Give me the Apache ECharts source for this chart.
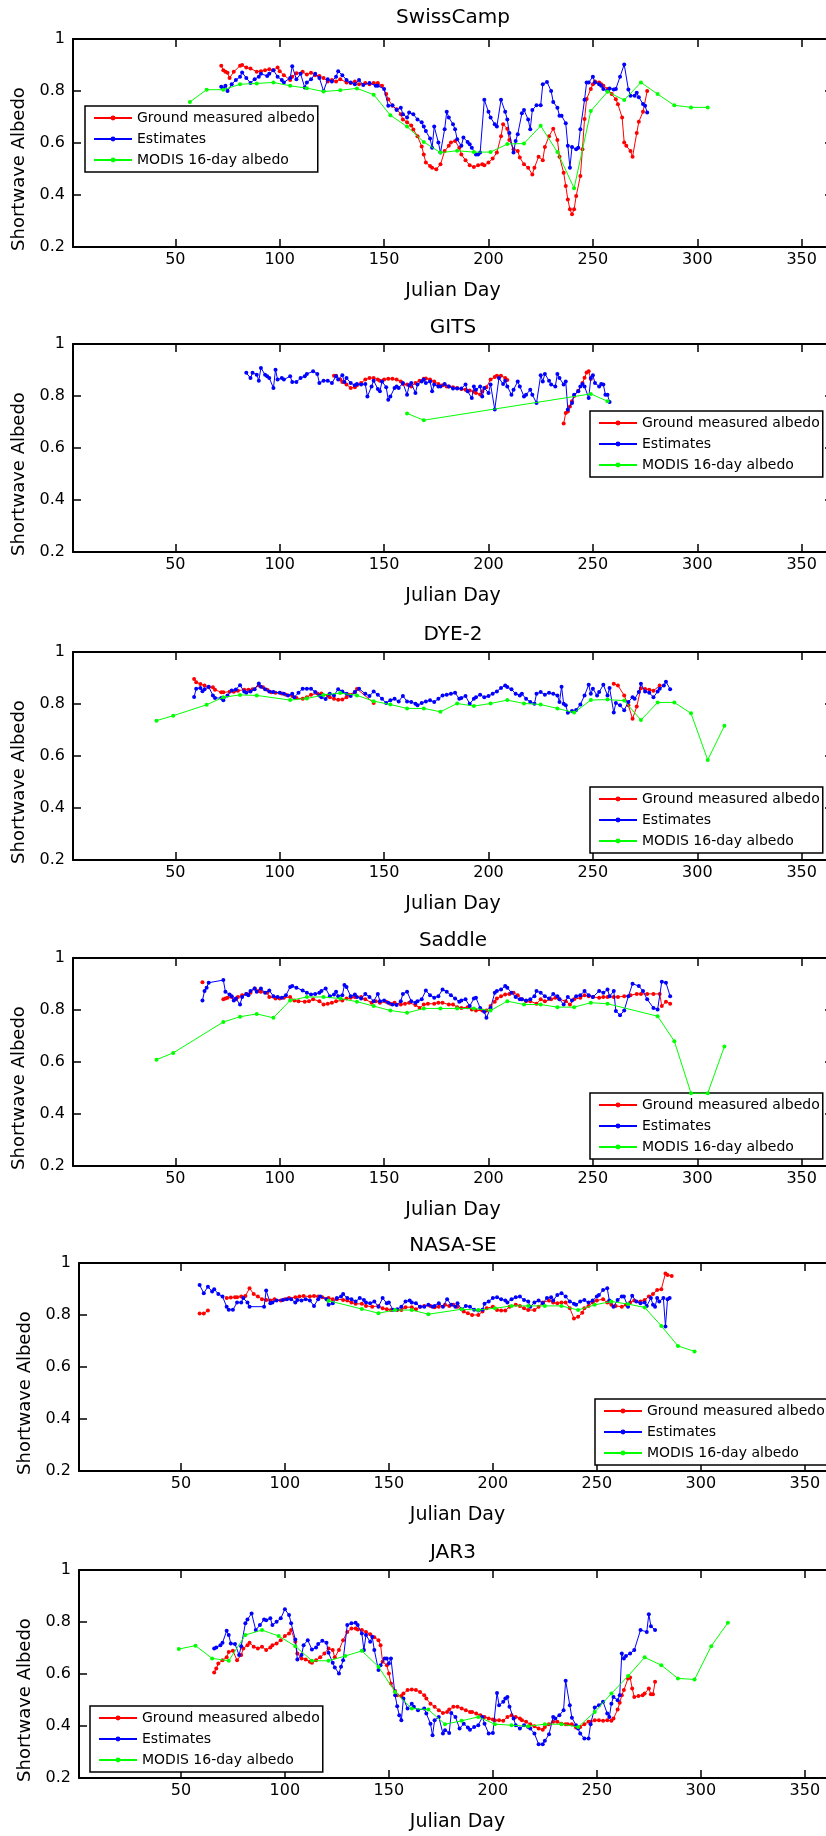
<!DOCTYPE html>
<html>
<head>
<meta charset="utf-8">
<script src="https://cdn.jsdelivr.net/npm/echarts@6/dist/echarts.min.js"></script>
<style>
html, body { margin: 0; padding: 0; background: #fff; }
#main { width: 826px; height: 1836px; }
</style>
</head>
<body>
<div id="main"></div>
<script>
// 站点名称 / 图例 / 刻度
var stations = ['SwissCamp', 'GITS', 'DYE-2', 'Saddle', 'NASA-SE', 'JAR3'];
var seriesNames = ['Ground measured albedo', 'Estimates', 'MODIS 16-day albedo'];
var xTickValues = [50, 100, 150, 200, 250, 300, 350];
var yTickValues = [0.2, 0.4, 0.6, 0.8, 1];

// SwissCamp
var swissGround = [[72,0.897],[73,0.88],[74,0.874],[75,0.87],[76,0.85],[78,0.874],[81,0.897],[82,0.9],[84,0.89],[86,0.887],[89,0.874],[91,0.876],[93,0.88],[95,0.884],[97,0.88],[99,0.89],[100,0.876],[102,0.861],[105,0.842],[106,0.855],[108,0.868],[111,0.874],[113,0.863],[115,0.87],[117,0.861],[119,0.858],[121,0.85],[123,0.837],[125,0.842],[127,0.837],[129,0.845],[132,0.833],[134,0.831],[136,0.837],[138,0.826],[141,0.831],[143,0.826],[145,0.831],[147,0.831],[149,0.82],[151,0.788],[152,0.768],[154,0.743],[156,0.73],[158,0.711],[159,0.69],[161,0.68],[163,0.667],[164,0.652],[166,0.626],[168,0.587],[169,0.556],[170,0.525],[172,0.512],[173,0.505],[175,0.499],[177,0.518],[179,0.569],[181,0.589],[182,0.602],[184,0.608],[186,0.582],[187,0.556],[189,0.534],[191,0.514],[193,0.508],[195,0.514],[197,0.518],[198,0.514],[200,0.525],[202,0.54],[204,0.563],[206,0.626],[207,0.672],[209,0.655],[210,0.612],[212,0.576],[214,0.569],[215,0.544],[217,0.518],[219,0.505],[221,0.479],[222,0.505],[224,0.547],[226,0.534],[227,0.585],[229,0.626],[231,0.655],[233,0.612],[234,0.547],[236,0.486],[237,0.435],[238,0.383],[239,0.345],[240,0.326],[241,0.345],[242,0.396],[244,0.473],[245,0.576],[246,0.692],[247,0.769],[249,0.808],[250,0.826],[251,0.837],[253,0.833],[254,0.826],[255,0.82],[257,0.808],[259,0.788],[261,0.768],[262,0.749],[264,0.698],[265,0.602],[266,0.589],[268,0.569],[269,0.547],[271,0.638],[272,0.682],[274,0.72],[276,0.8]];
var swissEst = [[72,0.816],[73,0.81],[74,0.82],[75,0.8],[77,0.826],[79,0.842],[81,0.855],[82,0.871],[84,0.85],[86,0.831],[88,0.845],[90,0.855],[91,0.866],[94,0.858],[95,0.866],[97,0.88],[99,0.855],[101,0.842],[102,0.833],[105,0.85],[106,0.895],[108,0.845],[110,0.866],[112,0.813],[113,0.833],[115,0.845],[117,0.866],[119,0.85],[121,0.8],[123,0.845],[125,0.837],[127,0.855],[128,0.876],[130,0.861],[132,0.842],[134,0.833],[136,0.826],[138,0.842],[140,0.823],[143,0.831],[146,0.82],[147,0.82],[150,0.808],[152,0.743],[154,0.745],[156,0.727],[158,0.736],[159,0.711],[161,0.698],[162,0.717],[164,0.711],[166,0.69],[168,0.68],[169,0.663],[170,0.646],[172,0.617],[173,0.582],[174,0.663],[176,0.602],[177,0.563],[179,0.653],[180,0.72],[181,0.698],[183,0.672],[184,0.653],[185,0.614],[187,0.589],[188,0.621],[190,0.604],[191,0.595],[192,0.582],[194,0.556],[195,0.556],[196,0.563],[198,0.766],[200,0.72],[201,0.698],[203,0.672],[204,0.663],[206,0.766],[208,0.72],[209,0.69],[210,0.638],[212,0.563],[213,0.608],[214,0.634],[216,0.714],[217,0.727],[219,0.69],[220,0.653],[221,0.727],[223,0.745],[225,0.745],[226,0.826],[228,0.835],[230,0.8],[231,0.758],[233,0.736],[234,0.705],[235,0.705],[237,0.676],[238,0.589],[239,0.505],[240,0.585],[242,0.576],[243,0.582],[244,0.653],[246,0.766],[247,0.833],[248,0.833],[250,0.855],[251,0.833],[253,0.826],[254,0.82],[255,0.808],[257,0.8],[258,0.81],[260,0.806],[261,0.808],[263,0.855],[265,0.902],[267,0.806],[268,0.782],[270,0.782],[271,0.793],[272,0.776],[274,0.75],[275,0.743],[276,0.717]];
var swissModis = [[57,0.758],[65,0.805],[73,0.805],[81,0.826],[89,0.829],[97,0.833],[105,0.82],[113,0.811],[121,0.798],[129,0.803],[137,0.81],[145,0.786],[153,0.707],[161,0.663],[169,0.604],[177,0.563],[185,0.57],[193,0.565],[201,0.565],[209,0.596],[217,0.598],[225,0.666],[233,0.565],[241,0.426],[249,0.723],[257,0.797],[265,0.765],[273,0.833],[281,0.788],[289,0.745],[297,0.737],[305,0.737]];

// GITS
var gitsGround = [[126,0.878],[127,0.878],[129,0.863],[130,0.854],[132,0.844],[134,0.831],[136,0.834],[137,0.841],[139,0.85],[141,0.863],[143,0.869],[145,0.869],[147,0.863],[148,0.859],[150,0.863],[152,0.866],[154,0.866],[156,0.863],[158,0.856],[159,0.846],[161,0.844],[163,0.837],[165,0.85],[167,0.859],[169,0.866],[170,0.867],[172,0.863],[174,0.856],[176,0.846],[178,0.841],[180,0.837],[181,0.837],[183,0.834],[185,0.831],[187,0.827],[189,0.824],[191,0.821],[193,0.816],[194,0.812],[196,0.806],[197,0.818],[199,0.834],[201,0.863],[203,0.873],[204,0.878],[206,0.878],[208,0.869],[209,0.862],[222,null],[236,0.694],[237,0.735],[238,0.74],[239,0.76],[240,0.78],[241,0.8],[243,0.82],[245,0.85],[246,0.87],[247,0.89],[248,0.895],[249,0.865]];
var gitsEst = [[84,0.889],[86,0.869],[87,0.889],[89,0.882],[90,0.859],[91,0.908],[93,0.882],[94,0.876],[95,0.869],[97,0.831],[98,0.901],[99,0.863],[101,0.869],[102,0.863],[105,0.876],[106,0.854],[108,0.854],[110,0.869],[112,0.876],[113,0.885],[116,0.895],[118,0.885],[119,0.85],[121,0.859],[123,0.859],[125,0.85],[127,0.876],[128,0.863],[130,0.88],[131,0.854],[132,0.869],[134,0.85],[136,0.841],[137,0.846],[139,0.844],[141,0.846],[142,0.798],[144,0.837],[145,0.859],[147,0.827],[148,0.818],[149,0.856],[151,0.834],[152,0.786],[153,0.798],[155,0.831],[156,0.837],[157,0.831],[159,0.85],[161,0.805],[162,0.841],[163,0.85],[165,0.812],[166,0.844],[168,0.856],[169,0.863],[170,0.85],[172,0.856],[173,0.818],[174,0.844],[176,0.837],[177,0.837],[179,0.846],[181,0.837],[183,0.829],[185,0.829],[187,0.829],[189,0.844],[190,0.818],[192,0.792],[193,0.837],[194,0.824],[196,0.837],[197,0.798],[198,0.831],[200,0.812],[201,0.844],[203,0.748],[205,0.869],[207,0.846],[208,0.859],[209,0.837],[211,0.805],[212,0.824],[214,0.856],[215,0.837],[217,0.798],[218,0.805],[220,0.824],[221,0.805],[223,0.773],[225,0.88],[226,0.856],[227,0.885],[229,0.859],[230,0.844],[232,0.837],[233,0.885],[234,0.869],[236,0.844],[237,0.856],[238,0.748],[240,0.773],[241,0.805],[243,0.818],[244,0.837],[245,0.846],[246,0.837],[248,0.792],[249,0.869],[250,0.88],[251,0.85],[253,0.837],[254,0.846],[255,0.844],[256,0.805],[257,0.805],[258,0.777]];
var gitsModis = [[161,0.733],[169,0.707],[249,0.808],[257,0.78]];

// DYE-2
var dyeGround = [[59,0.896],[60,0.884],[62,0.877],[64,0.871],[66,0.864],[68,0.864],[69,0.855],[72,0.845],[73,0.845],[76,0.847],[78,0.847],[80,0.851],[83,0.855],[85,0.855],[87,0.857],[90,0.871],[92,0.864],[94,0.855],[96,0.845],[98,0.843],[101,0.84],[103,0.836],[106,0.831],[108,0.823],[111,0.82],[113,0.826],[115,0.836],[118,0.84],[120,0.84],[123,0.833],[124,0.826],[126,0.82],[128,0.816],[130,0.817],[132,0.826],[133,0.836],[136,0.845],[137,0.858],[145,0.804],[200,null],[260,0.878],[262,0.871],[265,0.833],[267,0.795],[269,0.743],[271,0.79],[273,0.861],[275,0.858],[277,0.855],[279,0.851],[282,0.871]];
var dyeEst = [[59,0.827],[60,0.859],[62,0.862],[63,0.849],[64,0.857],[66,0.866],[68,0.833],[69,0.823],[72,0.823],[73,0.814],[75,0.833],[77,0.852],[79,0.856],[81,0.872],[83,0.848],[84,0.843],[86,0.848],[88,0.857],[90,0.879],[91,0.866],[93,0.857],[95,0.848],[97,0.846],[100,0.843],[102,0.839],[104,0.833],[106,0.839],[107,0.826],[109,0.843],[111,0.859],[113,0.859],[115,0.859],[117,0.846],[119,0.833],[120,0.826],[122,0.819],[124,0.839],[126,0.833],[128,0.857],[130,0.848],[132,0.839],[134,0.831],[136,0.846],[138,0.859],[141,0.839],[143,0.831],[145,0.848],[147,0.836],[149,0.82],[151,0.804],[153,0.814],[155,0.82],[157,0.81],[159,0.831],[161,0.81],[163,0.808],[165,0.801],[166,0.795],[168,0.804],[170,0.81],[172,0.814],[174,0.808],[176,0.82],[178,0.833],[180,0.836],[182,0.839],[184,0.843],[186,0.82],[187,0.823],[189,0.831],[191,0.801],[193,0.82],[194,0.826],[196,0.836],[198,0.826],[200,0.831],[202,0.839],[204,0.848],[206,0.862],[208,0.871],[209,0.865],[211,0.857],[213,0.839],[215,0.833],[216,0.839],[218,0.82],[220,0.808],[222,0.801],[223,0.839],[225,0.846],[227,0.836],[229,0.843],[231,0.839],[233,0.833],[234,0.808],[235,0.866],[236,0.801],[237,0.795],[238,0.766],[240,0.773],[242,0.777],[244,0.798],[246,0.833],[248,0.874],[249,0.839],[250,0.859],[252,0.833],[253,0.846],[255,0.874],[257,0.833],[258,0.862],[260,0.767],[261,0.804],[263,0.795],[265,0.776],[267,0.808],[269,0.826],[270,0.82],[272,0.846],[273,0.878],[275,0.848],[277,0.843],[279,0.826],[281,0.848],[282,0.859],[284,0.871],[285,0.886],[287,0.857]];
var dyeModis = [[41,0.736],[49,0.755],[65,0.797],[73,0.826],[81,0.835],[89,0.833],[105,0.815],[113,0.821],[121,0.835],[129,0.842],[137,0.833],[145,0.811],[153,0.798],[161,0.783],[169,0.783],[177,0.77],[185,0.802],[193,0.792],[201,0.802],[209,0.815],[217,0.802],[225,0.798],[233,0.783],[241,0.767],[249,0.815],[257,0.817],[265,0.813],[273,0.738],[281,0.806],[289,0.806],[297,0.764],[305,0.585],[313,0.716]];

// Saddle
var saddleGround = [[63,0.907],[68,null],[73,0.841],[74,0.844],[75,0.847],[77,0.85],[79,0.841],[80,0.85],[82,0.857],[84,0.862],[86,0.866],[88,0.883],[90,0.873],[91,0.87],[94,0.866],[95,0.85],[98,0.844],[100,0.844],[102,0.847],[105,0.85],[107,0.837],[109,0.834],[112,0.832],[114,0.834],[116,0.841],[119,0.834],[121,0.821],[123,0.824],[125,0.828],[127,0.834],[130,0.837],[132,0.844],[134,0.847],[136,0.85],[139,0.85],[141,0.841],[144,0.828],[146,0.834],[148,0.828],[151,0.832],[153,0.824],[155,0.828],[158,0.821],[160,0.824],[162,0.828],[165,0.819],[167,0.808],[169,0.821],[171,0.824],[174,0.824],[176,0.828],[178,0.828],[181,0.821],[183,0.821],[185,0.811],[187,0.808],[190,0.811],[192,0.802],[194,0.798],[197,0.798],[199,0.798],[201,0.815],[203,0.832],[204,0.844],[206,0.853],[208,0.86],[210,0.862],[212,0.866],[214,0.857],[216,0.841],[218,0.834],[220,0.834],[223,0.824],[225,0.841],[227,0.834],[230,0.841],[232,0.847],[234,0.841],[237,0.834],[239,0.821],[241,0.841],[244,0.847],[246,0.857],[248,0.853],[250,0.85],[253,0.847],[255,0.85],[257,0.85],[260,0.85],[262,0.85],[265,0.853],[268,0.857],[271,0.862],[273,0.862],[276,0.862],[279,0.862],[282,0.862],[283,0.815],[285,0.832],[287,0.824]];
var saddleEst = [[63,0.837],[64,0.873],[65,0.886],[66,0.905],[73,0.915],[74,0.87],[76,0.86],[77,0.853],[78,0.837],[79,0.844],[81,0.821],[82,0.85],[84,0.862],[85,0.857],[86,0.873],[88,0.883],[89,0.87],[91,0.883],[93,0.866],[95,0.875],[97,0.853],[99,0.85],[101,0.847],[103,0.857],[105,0.888],[106,0.892],[108,0.886],[111,0.875],[113,0.866],[115,0.86],[117,0.862],[119,0.866],[120,0.873],[122,0.883],[124,0.853],[126,0.86],[127,0.87],[128,0.853],[130,0.857],[131,0.896],[132,0.888],[134,0.853],[136,0.86],[137,0.85],[139,0.844],[141,0.862],[143,0.85],[145,0.834],[147,0.862],[148,0.834],[150,0.837],[152,0.828],[154,0.821],[156,0.819],[158,0.834],[159,0.862],[161,0.87],[163,0.834],[165,0.828],[166,0.834],[168,0.841],[170,0.875],[172,0.857],[174,0.847],[176,0.853],[178,0.879],[180,0.87],[182,0.857],[184,0.844],[186,0.832],[187,0.837],[189,0.841],[191,0.815],[193,0.844],[194,0.847],[196,0.808],[198,0.793],[199,0.77],[201,0.808],[203,0.866],[204,0.873],[206,0.879],[208,0.892],[209,0.886],[211,0.866],[213,0.85],[215,0.841],[216,0.841],[218,0.837],[220,0.841],[222,0.853],[223,0.873],[225,0.866],[227,0.853],[229,0.844],[231,0.862],[233,0.853],[234,0.841],[236,0.821],[238,0.85],[240,0.837],[242,0.853],[244,0.857],[246,0.873],[248,0.857],[250,0.85],[253,0.873],[255,0.866],[257,0.879],[258,0.853],[260,0.873],[261,0.796],[263,0.78],[265,0.798],[267,0.853],[269,0.901],[272,0.892],[274,0.873],[276,0.841],[279,0.808],[281,0.802],[283,0.909],[285,0.905],[287,0.853]];
var saddleModis = [[41,0.609],[49,0.635],[73,0.754],[81,0.774],[89,0.785],[97,0.77],[105,0.837],[113,0.85],[121,0.85],[129,0.844],[137,0.832],[145,0.815],[153,0.798],[161,0.789],[169,0.806],[177,0.806],[185,0.806],[193,0.806],[201,0.798],[209,0.834],[217,0.821],[225,0.821],[233,0.811],[241,0.811],[249,0.828],[257,0.824],[281,0.776],[289,0.68],[297,0.48],[305,0.48],[313,0.66]];

// NASA-SE
var nasaGround = [[59,0.806],[61,0.806],[63,0.817],[67,null],[72,0.865],[74,0.867],[76,0.868],[77,0.868],[79,0.871],[81,0.873],[83,0.903],[85,0.881],[87,0.871],[89,0.861],[91,0.858],[93,0.856],[95,0.861],[98,0.856],[100,0.861],[102,0.865],[105,0.868],[107,0.871],[109,0.873],[112,0.871],[114,0.873],[116,0.871],[118,0.868],[121,0.865],[123,0.861],[125,0.861],[128,0.858],[130,0.856],[132,0.848],[134,0.843],[137,0.843],[139,0.835],[142,0.832],[145,0.835],[147,0.826],[149,0.822],[151,0.819],[154,0.819],[156,0.819],[158,0.83],[161,0.83],[163,0.822],[165,0.832],[167,0.835],[170,0.835],[172,0.83],[174,0.832],[177,0.839],[179,0.835],[181,0.839],[183,0.832],[186,0.813],[188,0.807],[190,0.8],[193,0.8],[195,0.813],[197,0.826],[200,0.832],[202,0.819],[204,0.817],[206,0.817],[208,0.832],[211,0.839],[213,0.835],[215,0.826],[217,0.819],[220,0.819],[222,0.832],[224,0.848],[227,0.856],[229,0.848],[231,0.845],[233,0.848],[235,0.848],[237,0.826],[239,0.787],[241,0.793],[243,0.809],[244,0.826],[246,0.835],[248,0.848],[250,0.856],[253,0.861],[255,0.848],[257,0.839],[259,0.835],[262,0.832],[264,0.839],[266,0.848],[268,0.856],[271,0.852],[273,0.858],[275,0.871],[277,0.881],[279,0.896],[281,0.899],[283,0.96],[284,0.954],[286,0.95]];
var nasaEst = [[59,0.915],[61,0.884],[63,0.909],[65,0.89],[66,0.899],[68,0.881],[70,0.871],[72,0.832],[73,0.82],[75,0.82],[77,0.848],[79,0.848],[80,0.865],[82,0.848],[83,0.832],[90,0.832],[91,0.894],[93,0.845],[94,0.848],[96,0.856],[99,0.858],[101,0.861],[103,0.861],[105,0.848],[106,0.858],[108,0.856],[110,0.861],[112,0.856],[114,0.835],[116,0.861],[117,0.871],[120,0.861],[121,0.839],[123,0.845],[125,0.865],[127,0.871],[128,0.881],[130,0.865],[132,0.861],[134,0.852],[136,0.865],[138,0.858],[139,0.848],[141,0.845],[143,0.852],[145,0.832],[147,0.865],[149,0.845],[150,0.848],[152,0.82],[154,0.822],[156,0.832],[158,0.852],[160,0.856],[161,0.848],[163,0.845],[165,0.832],[167,0.832],[169,0.839],[171,0.832],[172,0.835],[174,0.845],[176,0.832],[178,0.861],[180,0.839],[182,0.832],[183,0.845],[185,0.822],[187,0.835],[189,0.832],[191,0.82],[193,0.817],[195,0.82],[196,0.843],[198,0.852],[200,0.865],[202,0.868],[204,0.861],[206,0.856],[207,0.848],[209,0.861],[211,0.868],[213,0.871],[215,0.858],[217,0.852],[218,0.832],[220,0.848],[222,0.856],[224,0.845],[226,0.865],[228,0.868],[229,0.856],[231,0.877],[233,0.884],[235,0.871],[237,0.852],[239,0.843],[240,0.839],[242,0.852],[244,0.858],[246,0.848],[248,0.856],[250,0.871],[251,0.877],[253,0.896],[255,0.903],[256,0.856],[258,0.832],[260,0.858],[262,0.871],[263,0.871],[265,0.832],[267,0.874],[269,0.852],[271,0.845],[273,0.848],[274,0.835],[276,0.865],[277,0.839],[278,0.832],[279,0.865],[280,0.852],[282,0.865],[283,0.756],[284,0.861],[285,0.865]];
var nasaModis = [[121,0.855],[137,0.823],[145,0.807],[153,0.819],[161,0.819],[169,0.803],[185,0.822],[193,0.819],[201,0.826],[209,0.835],[217,0.835],[225,0.835],[233,0.835],[241,0.819],[249,0.839],[257,0.852],[265,0.842],[273,0.829],[281,0.758],[289,0.681],[297,0.66]];

// JAR3
var jarGround = [[66,0.606],[67,0.621],[68,0.64],[70,0.653],[72,0.664],[73,0.685],[75,0.689],[77,0.653],[79,0.673],[80,0.698],[82,0.711],[83,0.72],[85,0.705],[87,0.698],[89,0.705],[91,0.692],[93,0.702],[94,0.711],[96,0.717],[98,0.73],[100,0.746],[102,0.756],[103,0.769],[105,0.724],[106,0.679],[108,0.66],[110,0.656],[112,0.647],[113,0.643],[115,0.653],[117,0.664],[119,0.679],[121,0.698],[123,0.692],[124,0.664],[126,0.692],[128,0.73],[130,0.762],[132,0.775],[134,0.775],[135,0.771],[137,0.769],[139,0.762],[141,0.753],[143,0.741],[145,0.73],[146,0.711],[147,0.647],[149,0.634],[150,0.602],[151,0.563],[153,0.535],[154,0.518],[156,0.515],[157,0.525],[159,0.538],[161,0.54],[163,0.538],[165,0.531],[167,0.518],[168,0.506],[170,0.486],[172,0.474],[174,0.461],[176,0.45],[178,0.454],[179,0.463],[181,0.474],[183,0.474],[185,0.467],[187,0.461],[189,0.454],[190,0.454],[192,0.448],[194,0.441],[196,0.435],[198,0.429],[200,0.425],[201,0.422],[203,0.422],[205,0.42],[207,0.435],[209,0.441],[211,0.435],[213,0.429],[214,0.422],[216,0.416],[218,0.407],[220,0.399],[222,0.39],[224,0.386],[225,0.396],[227,0.407],[229,0.416],[231,0.416],[233,0.409],[235,0.407],[236,0.407],[238,0.407],[240,0.394],[242,0.396],[244,0.407],[246,0.416],[247,0.416],[249,0.422],[251,0.422],[253,0.42],[255,0.422],[257,0.42],[258,0.429],[260,0.463],[261,0.489],[262,0.518],[263,0.538],[265,0.583],[266,0.587],[267,0.544],[268,0.512],[270,0.515],[272,0.518],[273,0.525],[275,0.544],[276,0.522],[277,0.522],[278,0.57]];
var jarEst = [[66,0.698],[67,0.702],[69,0.711],[70,0.72],[72,0.766],[73,0.75],[74,0.717],[76,0.715],[78,0.673],[79,0.707],[81,0.795],[82,0.81],[84,0.833],[86,0.769],[88,0.788],[90,0.81],[91,0.807],[93,0.814],[94,0.788],[96,0.801],[98,0.814],[100,0.849],[102,0.827],[103,0.795],[105,0.733],[106,0.656],[108,0.673],[109,0.711],[111,0.73],[113,0.694],[115,0.702],[116,0.715],[118,0.728],[120,0.72],[121,0.682],[123,0.643],[124,0.625],[126,0.602],[127,0.628],[128,0.653],[130,0.788],[132,0.795],[134,0.797],[135,0.788],[137,0.756],[138,0.692],[139,0.75],[141,0.724],[142,0.743],[143,0.692],[145,0.615],[146,0.634],[148,0.66],[149,0.66],[150,0.64],[151,0.66],[153,0.518],[154,0.476],[155,0.441],[156,0.422],[157,0.506],[159,0.467],[161,0.486],[162,0.474],[164,0.461],[167,0.467],[168,0.448],[170,0.409],[171,0.364],[172,0.422],[174,0.435],[176,0.371],[177,0.384],[179,0.373],[180,0.45],[182,0.435],[184,0.39],[186,0.409],[188,0.394],[189,0.386],[191,0.396],[193,0.403],[195,0.435],[196,0.409],[198,0.371],[200,0.373],[202,0.527],[203,0.48],[205,0.493],[206,0.506],[207,0.512],[208,0.474],[210,0.429],[211,0.403],[213,0.39],[215,0.403],[217,0.396],[218,0.39],[220,0.371],[222,0.33],[224,0.33],[225,0.343],[227,0.368],[229,0.435],[230,0.429],[232,0.441],[234,0.461],[235,0.574],[237,0.48],[238,0.432],[240,0.403],[241,0.39],[242,0.371],[244,0.352],[246,0.352],[247,0.407],[249,0.471],[251,0.48],[253,0.493],[255,0.448],[256,0.435],[257,0.486],[258,0.512],[260,0.499],[261,0.518],[262,0.679],[263,0.66],[264,0.669],[266,0.679],[268,0.692],[271,0.769],[274,0.762],[275,0.83],[276,0.784],[278,0.769]];
var jarModis = [[49,0.696],[57,0.709],[65,0.66],[73,0.651],[81,0.75],[89,0.769],[97,0.746],[105,0.707],[113,0.651],[121,0.651],[129,0.669],[137,0.689],[145,0.628],[153,0.531],[161,0.467],[169,0.463],[177,0.407],[185,0.42],[193,0.435],[201,0.407],[209,0.403],[217,0.399],[225,0.407],[233,0.407],[241,0.396],[249,0.454],[257,0.525],[265,0.592],[273,0.664],[281,0.634],[289,0.583],[297,0.579],[305,0.707],[313,0.797]];

var groundAll = [swissGround, gitsGround, dyeGround, saddleGround, nasaGround, jarGround];
var estAll = [swissEst, gitsEst, dyeEst, saddleEst, nasaEst, jarEst];
var modisAll = [swissModis, gitsModis, dyeModis, saddleModis, nasaModis, jarModis];

// 版面位置 (右框在画布外, 与原图一致)
var gridTops = [39, 344, 652, 958, 1263, 1570];
var gridH = 208;
var gridLefts = [73, 73, 73, 73, 79, 79];
var gridWidths = [760, 760, 760, 760, 757, 757];
var titleTops = [8, 318, 625, 931, 1236, 1543];
var legendPos = [[85, 106], [590, 411], [590, 787], [590, 1093], [595, 1399], [90, 1706]];
var colors = ['#ff0000', '#0000ff', '#00ff00'];
var font = 'DejaVu Sans';

var grids = [], xAxes = [], yAxes = [], titles = [], legends = [], series_list = [];
var axisLineStyle = { color: '#000', width: 2 };

for (var i = 0; i < stations.length; i++) {
    grids.push({
        left: gridLefts[i], width: gridWidths[i], top: gridTops[i], height: gridH,
        containLabel: false, outerBoundsMode: 'none'
    });
    titles.push({
        text: stations[i], left: 453, top: titleTops[i], textAlign: 'center', padding: 0,
        textStyle: { fontFamily: font, fontSize: 20, fontWeight: 'normal', color: '#000' }
    });
    // 下轴 + 上轴
    xAxes.push({
        type: 'value', gridIndex: i, min: 1, max: 365, position: 'bottom',
        name: 'Julian Day', nameLocation: 'middle', nameGap: 35,
        nameTextStyle: { fontFamily: font, fontSize: 19, color: '#000' },
        axisLine: { lineStyle: axisLineStyle },
        axisTick: { inside: true, length: 8, customValues: xTickValues, lineStyle: { color: '#000', width: 1.5 } },
        axisLabel: { customValues: xTickValues, margin: 5, fontFamily: font, fontSize: 16, color: '#000' },
        splitLine: { show: false }
    });
    xAxes.push({
        type: 'value', gridIndex: i, min: 1, max: 365, position: 'top',
        axisLine: { lineStyle: axisLineStyle },
        axisTick: { inside: true, length: 8, customValues: xTickValues, lineStyle: { color: '#000', width: 1.5 } },
        axisLabel: { show: false },
        splitLine: { show: false }
    });
    // 左轴 + 右轴
    yAxes.push({
        type: 'value', gridIndex: i, min: 0.2, max: 1, interval: 0.2, position: 'left',
        name: 'Shortwave Albedo', nameLocation: 'middle', nameGap: 41,
        nameTextStyle: { fontFamily: font, fontSize: 18, color: '#000', padding: [0, 52, 0, 0] },
        axisLine: { show: true, lineStyle: axisLineStyle },
        axisTick: { show: true, inside: true, length: 8, lineStyle: { color: '#000', width: 1.5 } },
        axisLabel: { margin: 8, fontFamily: font, fontSize: 16, color: '#000' },
        splitLine: { show: false }
    });
    yAxes.push({
        type: 'value', gridIndex: i, min: 0.2, max: 1, interval: 0.2, position: 'right',
        axisLine: { show: true, lineStyle: axisLineStyle },
        axisTick: { show: true, inside: true, length: 8, lineStyle: { color: '#000', width: 1.5 } },
        axisLabel: { show: false },
        splitLine: { show: false }
    });
    legends.push({
        orient: 'vertical', left: legendPos[i][0], top: legendPos[i][1],
        itemWidth: 38, itemHeight: 6, itemGap: 7, padding: [5, 3, 5, 8],
        borderColor: '#000', borderWidth: 1.5, backgroundColor: '#fff',
        selectedMode: false, data: seriesNames,
        textStyle: { fontFamily: font, fontSize: 14, color: '#000' }
    });
    var sets = [groundAll[i], estAll[i], modisAll[i]];
    for (var k = 0; k < 3; k++) {
        series_list.push({
            name: seriesNames[k], type: 'line',
            xAxisIndex: 2 * i, yAxisIndex: 2 * i,
            data: sets[k],
            symbol: 'circle', symbolSize: 4,
            connectNulls: false,
            lineStyle: { color: colors[k], width: 1 },
            itemStyle: { color: colors[k] },
            z: 2 + k
        });
    }
}

var myChart = echarts.init(document.getElementById('main'));
var option = {
    animation: false,
    backgroundColor: '#fff',
    color: colors,
    title: titles,
    legend: legends,
    grid: grids,
    xAxis: xAxes,
    yAxis: yAxes,
    series: series_list
};
myChart.setOption(option);
</script>
</body>
</html>
